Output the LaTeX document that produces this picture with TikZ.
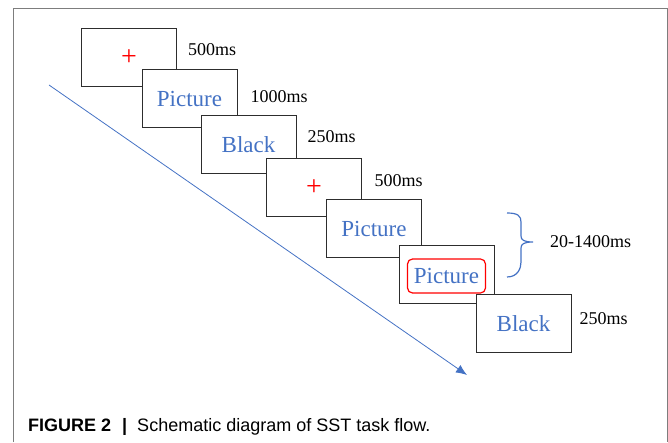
\documentclass[tikz,border=0pt]{standalone}
\usepackage{fontspec}
\setmainfont{Liberation Serif}
\newfontfamily\capfont{Liberation Sans}
\usepackage{xcolor}
\usetikzlibrary{arrows.meta}
\definecolor{StimBlue}{RGB}{68,114,196}
\definecolor{FixRed}{RGB}{255,0,0}
\definecolor{FrameGray}{RGB}{125,125,125}
\definecolor{BoxEdge}{RGB}{45,45,45}

\begin{document}
\begin{tikzpicture}[x=1pt,y=1pt,
    screen/.style={draw=BoxEdge,fill=white,line width=1pt,minimum width=95pt,
      minimum height=58pt,inner sep=0pt,text=StimBlue,font=\fontsize{23}{23}\selectfont},
    dur/.style={anchor=west,inner sep=0pt,font=\fontsize{18}{18}\selectfont},
    stopframe/.style={draw=FixRed,line width=1.2pt,rounded corners=5pt,
      minimum width=78pt,minimum height=34pt,inner sep=0pt,text=StimBlue,
      font=\fontsize{23}{23}\selectfont},
    timeline/.style={draw=StimBlue,line width=0.8pt,-{Latex[length=11pt,width=9pt]}}]
  \useasboundingbox (0,0) rectangle (668,442);
  % frame, open at the bottom
  \draw[FrameGray,line width=1pt] (13,0) -- (13,433) -- (667,433) -- (667,0);

  % screens, later ones on top
  \node[screen] (fix1)   at (129,384)   {\color{FixRed}\fontsize{28}{28}\selectfont +};
  \node[screen] (pic1)   at (189.5,343) {Picture};
  \node[screen] (blank1) at (248.5,297.5) {Black};
  \node[screen] (fix2)   at (314,254)   {\color{FixRed}\fontsize{28}{28}\selectfont +};
  \node[screen] (pic2)   at (374,213.5) {Picture};
  \node[screen] (pic3)   at (446.5,168) {};
  \node[stopframe] (stop) at ([yshift=-2pt]pic3.center) {Picture};
  \node[screen] (blank2) at (523.5,118.5) {Black};

  % durations
  \node[dur] (d1) at ([xshift=11pt,yshift=-21pt]fix1.north east)   {500ms};
  \node[dur] (d2) at ([xshift=13pt,yshift=-27pt]pic1.north east)   {1000ms};
  \node[dur] (d3) at ([xshift=11pt,yshift=-22pt]blank1.north east) {250ms};
  \node[dur] (d4) at ([xshift=12.5pt,yshift=-22pt]fix2.north east) {500ms};
  \node[dur] (d7) at ([xshift=8pt,yshift=-24.5pt]blank2.north east) {250ms};

  % brace over the two picture screens
  \draw[StimBlue,line width=1.2pt] (507,229) .. controls (518,229) and (521,226) .. (521,220)
    -- (521,206) .. controls (521,202) and (524,200) .. (533,200)
    .. controls (524,200) and (521,198) .. (521,194)
    -- (521,180) .. controls (521,174) and (518,165) .. (507,165);
  \coordinate (tip) at (533,200);
  \node[dur] (d5) at ([xshift=17pt]tip) {20-1400ms};

  % time axis
  \coordinate (tstart) at (49,357);
  \coordinate (tend) at (467,67);
  \draw[timeline] (tstart) -- (tend);

  \node[anchor=base west,inner sep=0pt,font=\capfont\fontsize{18}{18}\selectfont] (caption) at (28,11)
    {\textbf{FIGURE 2}\hspace{11pt}\textbf{|}\hspace{10pt}Schematic diagram of SST task flow.};
\end{tikzpicture}
\end{document}
